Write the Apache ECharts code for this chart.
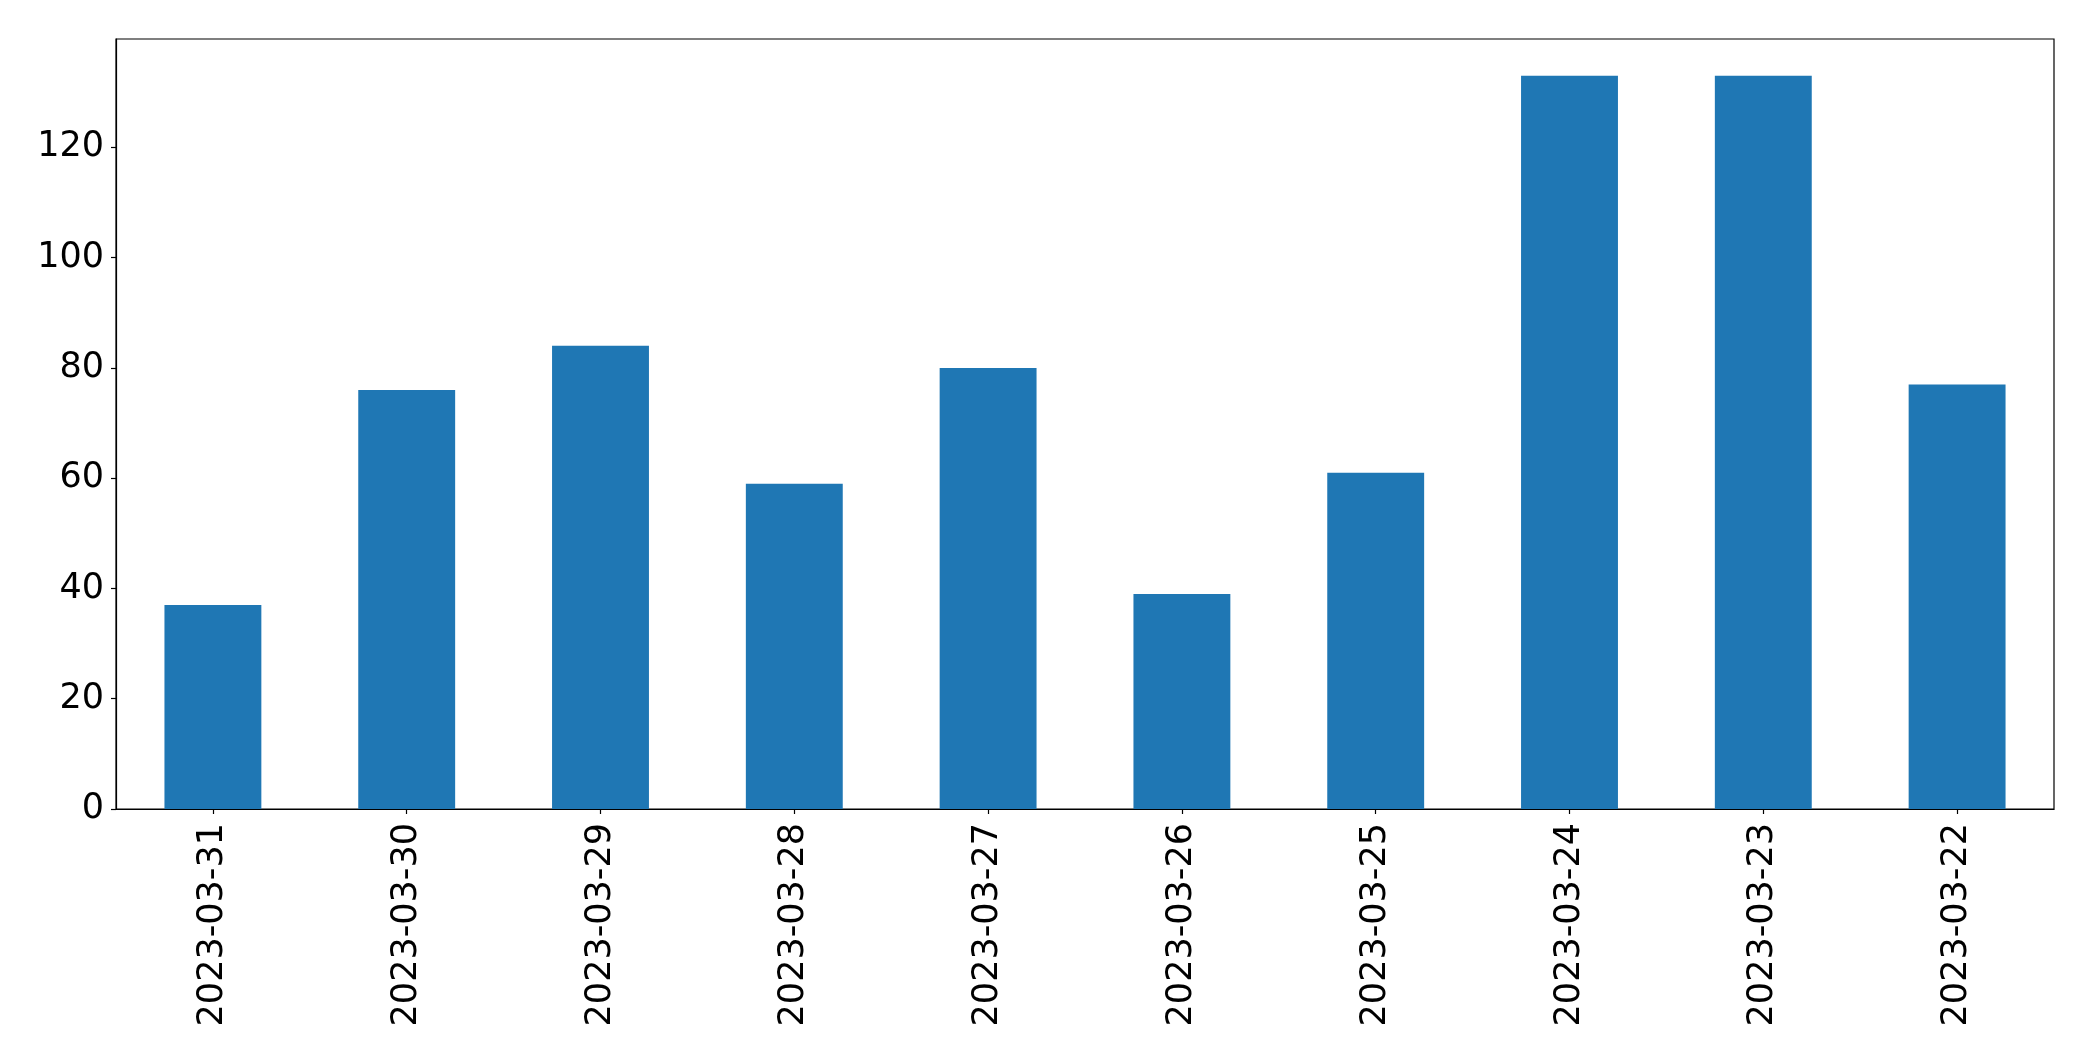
<!DOCTYPE html>
<html>
<head>
<meta charset="utf-8">
<script src="https://cdn.jsdelivr.net/npm/echarts@6/dist/echarts.min.js"></script>
<style>
  html, body { margin: 0; padding: 0; background: #fff; }
  #chart { width: 2093px; height: 1061px; }
</style>
</head>
<body>
<div id="chart"></div>
<script>
// categories (dates, newest first as in the source)
var dates = ['2023-03-31', '2023-03-30', '2023-03-29', '2023-03-28', '2023-03-27',
             '2023-03-26', '2023-03-25', '2023-03-24', '2023-03-23', '2023-03-22'];
// bar values
var counts = [37, 76, 84, 59, 80, 39, 61, 133, 133, 77];
// y tick labels
var yTicks = [0, 20, 40, 60, 80, 100, 120];

var chart = echarts.init(document.getElementById('chart'), null, { renderer: 'canvas' });

var fontFamily = 'DejaVu Sans';

chart.setOption({
  animation: false,
  grid: {
    left: 116,
    top: 39,
    right: 39,
    bottom: 252,
    show: true,
    borderColor: '#000',
    borderWidth: 1.2,
    backgroundColor: 'transparent'
  },
  xAxis: {
    type: 'category',
    data: dates,
    axisLine: { show: true, lineStyle: { color: '#000', width: 1.2 } },
    axisTick: { show: true, alignWithLabel: true, length: 5, lineStyle: { color: '#000', width: 1.2 } },
    axisLabel: {
      rotate: 90,
      margin: 14,
      color: '#000',
      fontSize: 35,
      fontFamily: fontFamily
    },
    splitLine: { show: false }
  },
  yAxis: {
    type: 'value',
    min: 0,
    max: 139.65,
    interval: 20,
    axisLine: { show: true, lineStyle: { color: '#000', width: 1.2 } },
    axisTick: { show: true, length: 5, lineStyle: { color: '#000', width: 1.2 } },
    axisLabel: {
      margin: 12,
      color: '#000',
      fontSize: 35,
      fontFamily: fontFamily,
      padding: [4, 0, 0, 0],
      showMaxLabel: false,
      formatter: function (v) {
        return yTicks.indexOf(v) >= 0 ? String(v) : '';
      }
    },
    splitLine: { show: false }
  },
  series: [{
    type: 'bar',
    data: counts,
    barWidth: '50%',
    itemStyle: { color: '#1f77b4' }
  }]
});
</script>
</body>
</html>
